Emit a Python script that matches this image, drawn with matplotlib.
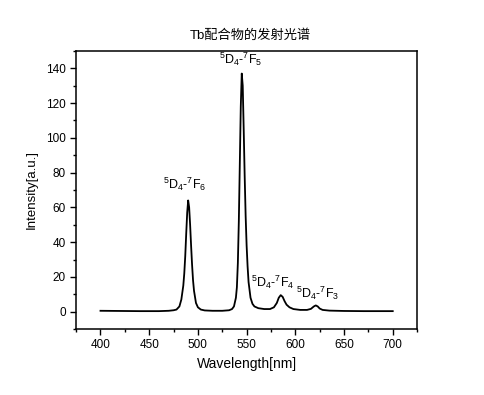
import matplotlib
matplotlib.use("Agg")
import matplotlib.pyplot as plt
from matplotlib.ticker import MultipleLocator

plt.rcParams['font.family'] = ['Liberation Sans', 'Noto Sans CJK SC', 'DejaVu Sans']
plt.rcParams['mathtext.fontset'] = 'custom'
plt.rcParams['mathtext.rm'] = 'Liberation Sans'
plt.rcParams['mathtext.it'] = 'Liberation Sans'

wavelength = [400, 420, 440, 460, 470, 475, 478, 481, 483, 485, 486, 487, 488, 489, 490,
              491, 492, 493, 494, 495, 496, 498, 500, 503, 507, 515, 525, 532, 535, 537,
              539, 540, 541, 542, 543, 544, 545, 546, 547, 548, 549, 550, 551, 552, 554,
              556, 558, 562, 568, 574, 578, 581, 583, 585, 587, 589, 591, 594, 598, 605,
              612, 616, 619, 621, 623, 625, 628, 635, 650, 670, 700]
intensity = [0.5, 0.4, 0.3, 0.3, 0.5, 0.8, 1.2, 3, 7, 15, 22, 32, 45, 57, 64,
             60, 50, 38, 27, 18, 12, 5, 2.5, 1.2, 0.7, 0.5, 0.5, 0.8, 1.5, 3,
             8, 14, 28, 52, 85, 118, 137, 130, 105, 78, 55, 38, 26, 17, 8,
             4.5, 3, 2, 1.5, 1.5, 2.5, 5, 8, 9.5, 8.5, 6, 4, 2.5, 1.5, 1.0,
             1.0, 1.6, 3, 3.6, 3, 1.8, 1.0, 0.6, 0.4, 0.3, 0.3]

labels = [r'$^5$D$_4$-$^7$F$_6$', r'$^5$D$_4$-$^7$F$_5$',
          r'$^5$D$_4$-$^7$F$_4$', r'$^5$D$_4$-$^7$F$_3$']
label_x = [486, 544, 577, 623]
label_y = [73, 145, 17, 10.6]

title = 'Tb配合物的发射光谱'
xlabel = 'Wavelength[nm]'
ylabel = 'Intensity[a.u.]'

fig = plt.figure(figsize=(4.85, 3.95), dpi=100)
ax = fig.add_axes([0.157, 0.167, 0.703, 0.704])
ax.plot(wavelength, intensity, color='black', lw=1.3)

for t, x, y in zip(labels, label_x, label_y):
    ax.text(x, y, t, ha='center', va='center', fontsize=9)

ax.set_xlim(375, 725)
ax.set_ylim(-10, 150)
ax.xaxis.set_major_locator(MultipleLocator(50))
ax.xaxis.set_minor_locator(MultipleLocator(25))
ax.yaxis.set_major_locator(MultipleLocator(20))
ax.yaxis.set_minor_locator(MultipleLocator(10))
ax.tick_params(which='both', direction='out', top=False, right=False, labelsize=8.5)
ax.tick_params(which='major', length=4, width=1)
ax.tick_params(which='minor', length=2.5, width=1)
for s in ax.spines.values():
    s.set_linewidth(1.1)

ax.set_xlabel(xlabel, fontsize=10, labelpad=4)
ax.set_ylabel(ylabel, fontsize=9.5, labelpad=6)
fig.text(0.516, 0.911, title, ha='center', va='center', fontsize=9.5)

fig.savefig('out.png', dpi=100)
